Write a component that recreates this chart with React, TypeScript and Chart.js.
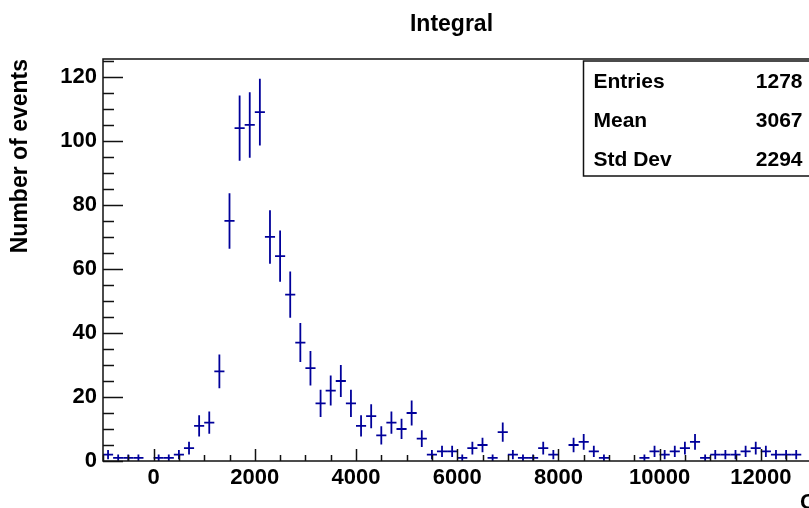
import React, { useEffect, useRef } from "react";
import { Chart, registerables } from "chart.js";

Chart.register(...registerables);

// ---- data ----
const binCenters = [
  -900, -700, -500, -300, -100, 100, 300, 500, 700, 900,
  1100, 1300, 1500, 1700, 1900, 2100, 2300, 2500, 2700, 2900,
  3100, 3300, 3500, 3700, 3900, 4100, 4300, 4500, 4700, 4900,
  5100, 5300, 5500, 5700, 5900, 6100, 6300, 6500, 6700, 6900,
  7100, 7300, 7500, 7700, 7900, 8100, 8300, 8500, 8700, 8900,
  9100, 9300, 9500, 9700, 9900, 10100, 10300, 10500, 10700, 10900,
  11100, 11300, 11500, 11700, 11900, 12100, 12300, 12500, 12700,
];
const counts = [
  2, 1, 1, 1, 0, 1, 1, 2, 4, 11,
  12, 28, 75, 104, 105, 109, 70, 64, 52, 37,
  29, 18, 22, 25, 18, 11, 14, 8, 12, 10,
  15, 7, 2, 3, 3, 1, 4, 5, 1, 9,
  2, 1, 1, 4, 2, 0, 5, 6, 3, 1,
  0, 0, 0, 1, 3, 2, 3, 4, 6, 1,
  2, 2, 2, 3, 4, 3, 2, 2, 2,
];
const binWidth = 200;
const xTicks = [0, 2000, 4000, 6000, 8000, 10000, 12000, 14000];
const yTicks = [0, 20, 40, 60, 80, 100, 120];
const xMinorStep = 500;
const yMinorStep = 5;
const statsLabels = ["Entries", "Mean", "Std Dev"];
const statsValues = ["1278", "3067", "2294"];
const titleText = "Integral";
const yTitle = "Number of events";
const xTitle = "Charge";

const FONT = "'Liberation Sans', Arial, Helvetica, sans-serif";
const MARK = "#00009a";

const rootStyle = {
  id: "rootStyle",
  afterDatasetsDraw(chart: any) {
    const { ctx, chartArea: a, scales } = chart;
    const x = scales.x;
    const y = scales.y;

    // error crosses
    ctx.save();
    ctx.beginPath();
    ctx.rect(a.left, a.top, a.right - a.left, a.bottom - a.top);
    ctx.clip();
    ctx.strokeStyle = MARK;
    ctx.lineWidth = 1.8;
    binCenters.forEach((c, i) => {
      const n = counts[i];
      if (n <= 0) return;
      const e = Math.sqrt(n);
      const px = x.getPixelForValue(c);
      const py = y.getPixelForValue(n);
      ctx.beginPath();
      ctx.moveTo(x.getPixelForValue(c - binWidth / 2), py);
      ctx.lineTo(x.getPixelForValue(c + binWidth / 2), py);
      ctx.moveTo(px, y.getPixelForValue(n - e));
      ctx.lineTo(px, y.getPixelForValue(n + e));
      ctx.stroke();
    });
    ctx.restore();

    // frame + ticks
    ctx.save();
    ctx.strokeStyle = "#111";
    ctx.lineWidth = 1.5;
    ctx.strokeRect(a.left, a.top, a.right - a.left, a.bottom - a.top);
    ctx.beginPath();
    for (let v = y.min; v <= y.max; v += yMinorStep) {
      const py = Math.round(y.getPixelForValue(v)) + 0.5;
      const major = yTicks.includes(v);
      ctx.moveTo(a.left, py);
      ctx.lineTo(a.left + (major ? 20 : 11), py);
    }
    const xStart = Math.ceil(x.min / xMinorStep) * xMinorStep;
    for (let v = xStart; v <= x.max; v += xMinorStep) {
      const px = Math.round(x.getPixelForValue(v)) + 0.5;
      const major = xTicks.includes(v);
      ctx.moveTo(px, a.bottom);
      ctx.lineTo(px, a.bottom - (major ? 12 : 6));
    }
    ctx.stroke();
    ctx.restore();

    // stats box
    ctx.save();
    const bx = 583.5, by = 61, bw = 230, bh = 115;
    ctx.fillStyle = "#fff";
    ctx.fillRect(bx, by, bw, bh);
    ctx.strokeStyle = "#111";
    ctx.lineWidth = 1.5;
    ctx.strokeRect(bx, by, bw, bh);
    ctx.fillStyle = "#000";
    ctx.font = `bold 21px ${FONT}`;
    ctx.textBaseline = "middle";
    statsLabels.forEach((lab, i) => {
      const ty = by + 21 + i * 39;
      ctx.textAlign = "left";
      ctx.fillText(lab, bx + 10, ty);
      ctx.textAlign = "right";
      ctx.fillText(statsValues[i], bx + 219, ty);
    });
    ctx.restore();

    // titles
    ctx.save();
    ctx.fillStyle = "#000";
    ctx.textBaseline = "middle";
    ctx.font = `bold 23px ${FONT}`;
    ctx.textAlign = "center";
    ctx.fillText(titleText, chart.width / 2, 25);
    ctx.font = `bold 22px ${FONT}`;
    ctx.textAlign = "left";
    ctx.fillText(xTitle, a.right - 62, 503);
    ctx.restore();
  },
};

export default function App() {
  const ref = useRef<HTMLCanvasElement | null>(null);

  useEffect(() => {
    if (!ref.current) return;
    Chart.defaults.font.family = FONT;
    Chart.defaults.color = "#000";
    const chart = new Chart(ref.current, {
      type: "scatter",
      data: {
        datasets: [
          {
            data: binCenters.map((c, i) => ({ x: c, y: counts[i] })),
            pointRadius: 0,
            showLine: false,
          },
        ],
      },
      options: {
        animation: false,
        responsive: false,
        devicePixelRatio: 1,
        layout: { padding: { left: 2, right: 41, top: 59, bottom: 0 } },
        plugins: {
          legend: { display: false },
          tooltip: { enabled: false },
          title: { display: false },
        },
        scales: {
          x: {
            type: "linear",
            min: -1000,
            max: 14000,
            grid: { display: false, drawTicks: false },
            border: { display: false },
            afterBuildTicks: (s: any) => {
              s.ticks = xTicks.map((v) => ({ value: v }));
            },
            afterFit: (s: any) => {
              s.height = 47;
            },
            ticks: {
              autoSkip: false,
              maxRotation: 0,
              padding: 4,
              color: "#000",
              font: { size: 22, weight: "bold", family: FONT },
              callback: (v: any) => String(v),
            },
          },
          y: {
            type: "linear",
            min: 0,
            max: 125.6,
            grid: { display: false, drawTicks: false },
            border: { display: false },
            afterBuildTicks: (s: any) => {
              s.ticks = yTicks.map((v) => ({ value: v }));
            },
            afterFit: (s: any) => {
              s.width = 101;
            },
            ticks: {
              padding: 6,
              color: "#000",
              font: { size: 22, weight: "bold", family: FONT },
              callback: (v: any) => String(v),
            },
            title: {
              display: true,
              text: yTitle,
              align: "end",
              color: "#000",
              font: { size: 23, weight: "bold", family: FONT },
              padding: { top: 5, bottom: 0 },
            },
          },
        },
      },
      plugins: [rootStyle],
    } as any);
    return () => chart.destroy();
  }, []);

  return (
    <div
      style={{
        position: "absolute",
        left: 0,
        top: 0,
        width: 809,
        height: 508,
        overflow: "hidden",
        background: "#fff",
      }}
    >
      <canvas ref={ref} width={903} height={508} style={{ width: 903, height: 508, display: "block" }} />
    </div>
  );
}
